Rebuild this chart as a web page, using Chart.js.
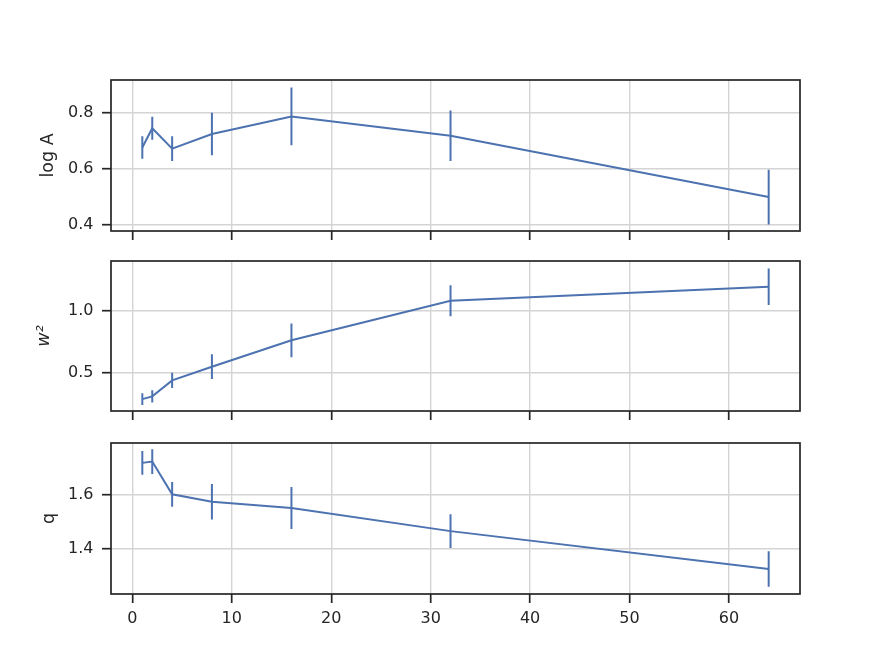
<!DOCTYPE html>
<html>
<head>
<meta charset="utf-8">
<script src="https://cdn.jsdelivr.net/npm/chart.js@4"></script>
<style>
  html, body { margin: 0; padding: 0; background: #fff; }
  #wrap { position: relative; width: 889px; height: 667px; }
  canvas { position: absolute; left: 0; }
</style>
</head>
<body>
<div id="wrap">
  <canvas id="panelA" width="889" height="260" style="top:0"></canvas>
  <canvas id="panelB" width="889" height="205" style="top:235px"></canvas>
  <canvas id="panelC" width="889" height="252" style="top:415px"></canvas>
</div>
<script>
const xValues = [1, 2, 4, 8, 16, 32, 64];
const xTicks = [0, 10, 20, 30, 40, 50, 60];

const logA = [0.677, 0.746, 0.673, 0.725, 0.788, 0.719, 0.5];
const logAErr = [0.04, 0.041, 0.044, 0.076, 0.103, 0.09, 0.098];
const logATicks = [0.4, 0.6, 0.8];

const w2 = [0.29, 0.312, 0.441, 0.551, 0.764, 1.082, 1.195];
const w2Err = [0.048, 0.05, 0.062, 0.1, 0.136, 0.125, 0.147];
const w2Ticks = [0.5, 1.0];

const qValues = [1.72, 1.725, 1.603, 1.575, 1.552, 1.466, 1.325];
const qErr = [0.044, 0.046, 0.046, 0.066, 0.078, 0.063, 0.066];
const qTicks = [1.4, 1.6];

const blue = "#4c72b0";
const ink = "#262626";
const gridColor = "#d4d4d4";
const tickFont = { family: "DejaVu Sans", size: 16 };
const labelFont = { family: "DejaVu Sans", size: 17.5 };

// matplotlib draws a full box round every axes
const framePlugin = {
  id: "frame",
  afterDatasetsDraw(chart) {
    const { ctx, chartArea: a } = chart;
    ctx.save();
    ctx.strokeStyle = ink;
    ctx.lineWidth = 1.7;
    ctx.strokeRect(a.left, a.top, a.right - a.left, a.bottom - a.top);
    ctx.restore();
  },
};

function makePanel(canvasId, values, errors, yTicks, yMin, yMax, cfg) {
  const lineData = xValues.map((x, i) => ({ x, y: values[i] }));
  // one vertical segment per point, separated by gaps
  const errData = xValues.flatMap((x, i) => [
    { x, y: values[i] - errors[i] },
    { x, y: values[i] + errors[i] },
    { x, y: null },
  ]);

  return new Chart(document.getElementById(canvasId), {
    type: "scatter",
    data: {
      datasets: [
        { data: lineData, showLine: true, borderColor: blue, borderWidth: 2, pointRadius: 0 },
        { data: errData, showLine: true, spanGaps: false, borderColor: blue, borderWidth: 2, pointRadius: 0 },
      ],
    },
    options: {
      responsive: false,
      animation: false,
      layout: { padding: { top: cfg.top, right: 89, left: 0, bottom: 0 } },
      plugins: { legend: { display: false }, tooltip: { enabled: false } },
      scales: {
        x: {
          type: "linear",
          min: -2.15,
          max: 67.15,
          afterBuildTicks(scale) {
            scale.ticks = xTicks.map((value) => ({ value }));
          },
          afterFit(scale) {
            scale.height = cfg.xHeight;
          },
          border: { display: false },
          grid: { color: gridColor, lineWidth: 1.4, tickColor: ink, tickLength: 9, tickWidth: 1.7 },
          ticks: {
            display: cfg.xLabels,
            color: ink,
            font: tickFont,
            padding: 6.5,
            maxRotation: 0,
            callback: (v) => String(v),
          },
        },
        y: {
          type: "linear",
          min: yMin,
          max: yMax,
          afterBuildTicks(scale) {
            scale.ticks = yTicks.map((value) => ({ value }));
          },
          afterFit(scale) {
            scale.width = 111;
          },
          border: { display: false },
          grid: { color: gridColor, lineWidth: 1.4, tickColor: ink, tickLength: 9, tickWidth: 1.7 },
          ticks: {
            color: ink,
            font: tickFont,
            padding: 8.5,
            callback: (v) => v.toFixed(1),
          },
          title: {
            display: true,
            text: cfg.title,
            color: ink,
            font: Object.assign({}, labelFont, cfg.titleStyle || {}),
            padding: { top: cfg.titlePad, bottom: 0 },
          },
        },
      },
    },
    plugins: [framePlugin],
  });
}

makePanel("panelA", logA, logAErr, logATicks, 0.379, 0.918, {
  top: 80, xHeight: 29, xLabels: false, title: "log A", titlePad: 37.6,
});
makePanel("panelB", w2, w2Err, w2Ticks, 0.194, 1.403, {
  top: 26, xHeight: 29, xLabels: false, title: "w²", titlePad: 34.2, titleStyle: { style: "italic" },
});
makePanel("panelC", qValues, qErr, qTicks, 1.232, 1.794, {
  top: 28, xHeight: 73, xLabels: true, title: "q", titlePad: 39.4,
});
</script>
</body>
</html>
